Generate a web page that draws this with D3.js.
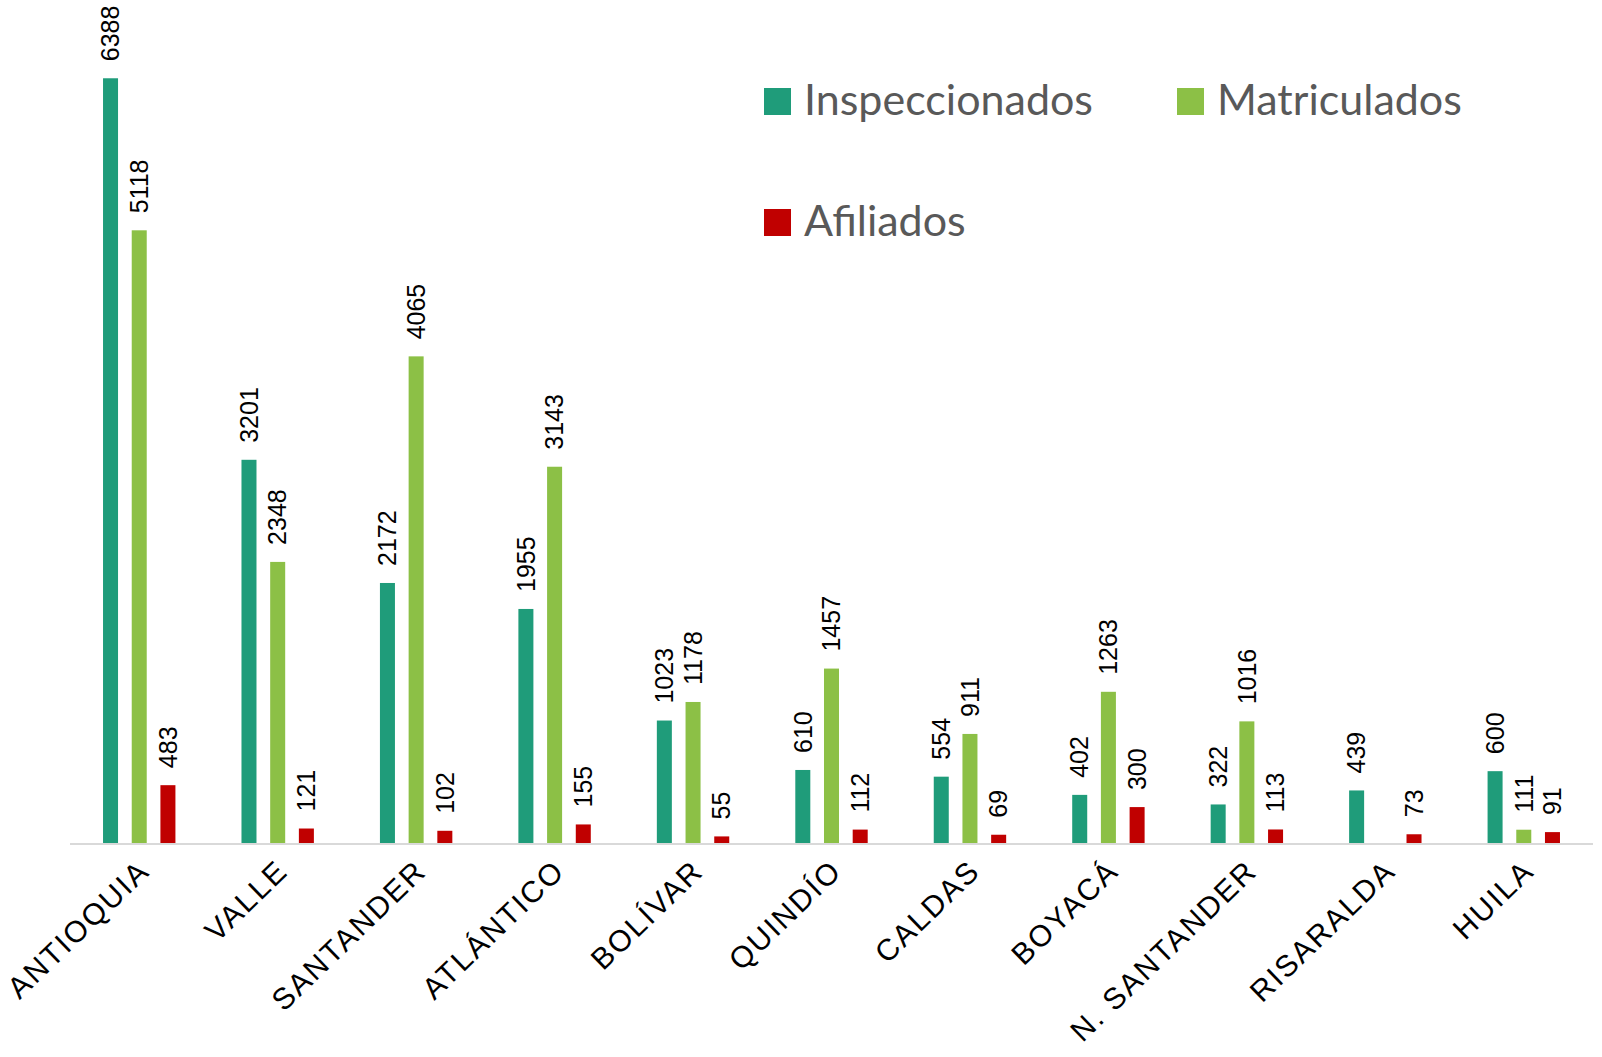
<!DOCTYPE html>
<html>
<head>
<meta charset="utf-8">
<script src="https://cdn.jsdelivr.net/npm/d3@7"></script>
<style>
  body { margin: 0; background: #fff; }
  svg { display: block; }
</style>
</head>
<body>
<svg id="chart"></svg>
<script>
// departments on the x axis
let departments = ["ANTIOQUIA", "VALLE", "SANTANDER", "ATLÁNTICO", "BOLÍVAR", "QUINDÍO",
  "CALDAS", "BOYACÁ", "N. SANTANDER", "RISARALDA", "HUILA"];

let seriesNames = ["Inspeccionados", "Matriculados", "Afiliados"];
let seriesColors = ["#1f9c7a", "#8cc046", "#c00000"];

let inspeccionados = [6388, 3201, 2172, 1955, 1023, 610, 554, 402, 322, 439, 600];
let matriculados = [5118, 2348, 4065, 3143, 1178, 1457, 911, 1263, 1016, null, 111];
let afiliados = [483, 121, 102, 155, 55, 112, 69, 300, 113, 73, 91];

let width = 1602, height = 1057;
let svg = d3.select("#chart").attr("width", width).attr("height", height);

// build rows for the grouped bars
let seriesValues = [inspeccionados, matriculados, afiliados];
let rows = [];
departments.forEach((dep, i) => {
  seriesNames.forEach((s, j) => {
    if (seriesValues[j][i] != null) {
      rows.push({ dep: dep, series: s, value: seriesValues[j][i], color: seriesColors[j] });
    }
  });
});

let x0 = d3.scaleBand().domain(departments).range([70, 1593]).padding(0);
let x1 = d3.scaleBand().domain(seriesNames).range([-36.2, 36.2]).paddingInner(0.477);
let y = d3.scaleLinear().domain([0, 7000]).range([843, 5]);

let barX = d => x0(d.dep) + x0.bandwidth() / 2 + x1(d.series);

// bars
svg.append("g")
  .selectAll("rect")
  .data(rows)
  .join("rect")
  .attr("x", barX)
  .attr("y", d => y(d.value))
  .attr("width", x1.bandwidth())
  .attr("height", d => y(0) - y(d.value))
  .attr("fill", d => d.color);

// axis line
svg.append("line")
  .attr("x1", 70).attr("x2", 1593)
  .attr("y1", y(0) + 1).attr("y2", y(0) + 1)
  .attr("stroke", "#d9d9d9")
  .attr("stroke-width", 2);

// value labels, rotated
svg.append("g")
  .selectAll("text")
  .data(rows)
  .join("text")
  .attr("transform", d => "translate(" + (barX(d) + x1.bandwidth() / 2) + "," + (y(d.value) - 17) + ") rotate(-90)")
  .attr("dy", "0.35em")
  .attr("font-family", "'Liberation Sans', Arial, sans-serif")
  .attr("font-size", 25)
  .attr("fill", "#000")
  .text(d => d.value);

// category labels (wide tracking like the original)
svg.append("g")
  .selectAll("text")
  .data(departments)
  .join("text")
  .attr("transform", d => "translate(" + (x0(d) + x0.bandwidth() / 2 + 12) + "," + 873 + ") rotate(-44)")
  .attr("text-anchor", "end")
  .attr("font-family", "'Liberation Sans', Arial, sans-serif")
  .attr("font-size", 30)
  .attr("letter-spacing", 2)
  .attr("fill", "#000")
  .text(d => d);

// legend
let legendPos = [[764, 88], [1177, 88], [764, 209]];
let legend = svg.append("g")
  .selectAll("g")
  .data(seriesNames)
  .join("g")
  .attr("transform", (d, i) => "translate(" + legendPos[i][0] + "," + legendPos[i][1] + ")");

legend.append("rect")
  .attr("width", 27).attr("height", 27)
  .attr("fill", (d, i) => seriesColors[i]);

legend.append("text")
  .attr("x", 40)
  .attr("y", 27)
  .attr("font-family", "Lato, 'Open Sans', sans-serif")
  .attr("font-size", 43)
  .attr("fill", "#595959")
  .text(d => d);
</script>
</body>
</html>
